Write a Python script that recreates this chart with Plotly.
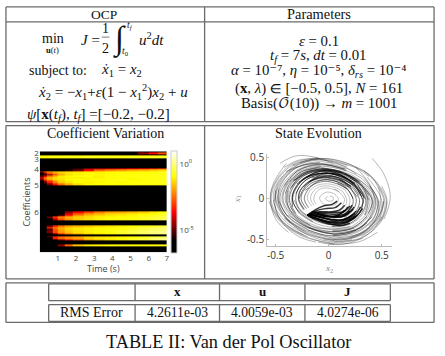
import plotly.graph_objects as go

W, H = 445, 356
N = -7

# --- heat map data: log10 of coefficient magnitude ---
TIME_EDGES = [0, .2, .4, .7, 1, 1.4, 1.8, 2.4, 3, 3.6, 4.2, 4.8, 5.4, 6, 6.5, 7]
ROW_EDGES = [0, 1, 3, 4, 5.5, 7, 17, 18.5, 20, 21.5, 23, 24.5, 26, 27.5, 29, 30.5, 32, 34,
             61, 63, 64.5, 66, 67.5, 70, 75, 76.5, 78, 79.5, 81, 82.5, 84, 85.5, 87, 88.5, 90,
             94.5, 96.5, 102]
# each list is the tail of its row, ending at t = 7; earlier cells are black
LEVEL_TAILS = [
    [],
    [-4.6, -3.6, -2.8],
    [],
    [-1.1, -1.1, -1.0, -1.0, -1.0, -.9, -1.0, -.9, -.9, -.9, -1.0, -.9, -.9, -.9, -.8],
    [-.9, -.9, -.85, -.8, -.85, -.8, -.8, -.7, -.8, -.8, -.8, -.7, -.8, -.7, -.7],
    [],
    [-5.4, -4.5, -4.2, -4, -3.8, -3.6, -3.4, -3.2, -3.0],
    [-5.5, -4.8, -3.6, -2.6, -2.2, -2.0, -1.8, -1.7, -1.5, -1.3],
    [-4.2, -2.6, -2.0, -1.7, -1.5, -1.3, -1.2, -1.1, -1.0, -1.0, -1.0, -.9, -.9, -.8, -.8],
    [-4.5, -2.8, -2.0, -1.5, -1.2, -1.1, -1.0, -1.1, -1.0, -.9, -1.0, -.9, -.9, -.8],
    [-5, -3.2, -2.0, -1.4, -1.1, -1, -.9, -1.0, -.9, -.9, -.9, -.8, -.8],
    [-5, -3.8, -2.4, -1.7, -1.2, -1.0, -.95, -.9, -1.1, -.9, -.9, -.85, -.85, -.8, -.8],
    [-3.8, -2.0, -1.5, -1.2, -1.1, -1.1, -1.2, -1.1, -1.1, -1.0, -1.0, -.9, -.9, -.85, -.8],
    [-4.8, -2.8, -1.9, -1.4, -1.2, -1.0, -.9, -1.0, -.9, -.9, -.85, -1.0, -.9, -.85, -.8],
    [-4.5, -3, -2, -1.4, -1.1, -1, -.95, -1.0, -.9, -.85, -.9, -.9, -.8, -.8],
    [-5, -3.4, -2.2, -1.5, -1.2, -1.0, -1.1, -1.0, -.9, -1.0, -.9, -.85, -.85, -.8],
    [-4.8, -3.5, -2.5, -1.8, -1.3, -1.0, -.95, -.9, -.9, -.9, -.85, -.85, -.8],
    [],
    [-4.6, -3.6, -3, -2.4, -2.0, -1.9, -1.7, -1.5, -1.2, -1.0],
    [-3.8, -2.6, -1.9, -1.6, -1.3, -1.2, -1.1, -1.0, -.9, -.7],
    [-4.5, -3.0, -1.8, -1.5, -1.3, -1.2, -1.1, -1.0, -.9, -.7, -.6],
    [-5, -3.2, -2.3, -1.8, -1.5, -1.3, -1.1, -1.0, -.9, -.9, -.7, -.6, -.5],
    [-4.2, -2.8, -2, -1.5, -1.3, -1.1, -1, -1, -.9, -.8, -.6, -.4],
    [],
    [-4.8, -3.2, -2.4, -1.9, -1.7, -1.5, -1.3, -1.2, -1.1, -1.0, -.8, -.7, -.5],
    [-3, -2.2, -1.7, -1.4, -1.2, -1.1, -1, -.9, -.9, -.7, -.5, -.3, -.2],
    [-5, -2.8, -1.9, -1.4, -1.2, -1.1, -1, -.9, -.8, -.6, -.4, -.2, -.1],
    [-4.8, -2.8, -2, -1.5, -1.3, -1.1, -1, -.9, -.7, -.5, -.3, -.1, 0],
    [-4.8, -3, -2.1, -1.6, -1.3, -1.1, -1, -.8, -.6, -.4, -.2, 0, .1],
    [-5, -3.2, -2.3, -1.8, -1.4, -1.2, -1, -.8, -.6, -.3, -.1, 0],
    [],
    [-5, -3.2, -2.6, -2.3, -2, -1.6, -1.4, -1.3, -1.1, -1, -.8, -.6, -.4],
    [-3.4, -2.6, -2.2, -1.9, -1.4, -1.2, -1.1, -1, -.8, -.6, -.3, -.1],
    [-4.6, -3.4, -2.8, -2, -1.6, -1.2, -1, -.7, -.4, -.1, .1],
    [],
    [-4.6, -2.6, -1.6, -1.2, -1.1, -1, -1, -.9, -.9, -.9, -.8],
    [],
]
TIME_TICKS = [1, 2, 3, 4, 5, 6, 7]
COEF_TICKS = [2, 8, 18, 34, 62]
COEF_LABELS = ["2", "3", "4", "5", "6"]
STATE_TICKS = [-0.5, 0, 0.5]
STATE_LABELS = ["-0.5", "0", "0.5"]

# --- phase portrait, (x2, x1) points ---
OUTER_ARCS = [
    [(.41,.49),(.52,.30),(.58,.05),(.56,-.12),(.52,-.25)],
    [(.25,.385),(.38,.19),(.43,-.01),(.39,-.22),(.3,-.36)],
    [(.33,.34),(.45,.18),(.49,0),(.46,-.2),(.38,-.33)],
    [(0,-.55),(.15,-.55),(.3,-.52),(.46,-.41)],
    [(-.1,-.53),(.1,-.56),(.28,-.5),(.42,-.38),(.5,-.22)],
    [(-.4,.43),(-.52,.19),(-.55,-.01),(-.5,-.25),(-.38,-.41)],
    [(-.46,.43),(-.31,.52),(-.15,.51),(.04,.43)],
    [(-.5,.1),(-.5,-.12),(-.42,-.32),(-.27,-.47),(-.12,-.53)],
    [(-.42,.38),(-.28,.47),(-.1,.48),(.1,.42),(.26,.3)],
    [(-.52,-.02),(-.48,-.2),(-.36,-.36),(-.2,-.46)],
    [(-.3,.4),(-.44,.24),(-.5,.05),(-.46,-.14),(-.36,-.3)],
    [(.2,-.47),(.36,-.38),(.47,-.22),(.52,-.03),(.47,.14)],
    [(-.05,-.5),(.15,-.5),(.32,-.42),(.44,-.26)],
    [(-.095,.49),(-.34,.41),(-.50,.19),(-.54,-.03),(-.45,-.26),(-.24,-.44)],
    [(.05,-.53),(.31,-.475),(.49,-.285),(.55,-.03),(.50,.15)],
    [(.18,.405),(-.09,.47),(-.32,.39),(-.48,.18),(-.51,-.03)],
    [(-.42,-.24),(-.225,-.41),(.045,-.50),(.30,-.45),(.47,-.27),(.52,-.03)],
    [(.38,.27),(.18,.43),(-.05,.49),(-.27,.44)],
    [(-.47,.12),(-.47,-.06),(-.39,-.25),(-.23,-.42),(0,-.52),(.22,-.5)],
]
LONG_ARCS = [
    [(-.1,.5),(-.35,.42),(-.51,.19),(-.55,-.03),(-.46,-.26),(-.24,-.45),(.05,-.54),(.32,-.485)],
    [(.31,-.46),(.48,-.28),(.53,-.03),(.39,.28),(.18,.41),(-.09,.48),(-.33,.40)],
    [(-.33,.40),(-.49,.18),(-.52,-.03),(-.43,-.25),(-.23,-.42),(.05,-.51)],
    [(.17,.39),(-.09,.45),(-.31,.375),(-.46,.175),(-.5,-.025),(-.41,-.235),(-.22,-.4)],
    [(-.41,-.235),(-.22,-.4),(.04,-.49),(.29,-.435),(.45,-.26),(.5,-.025),(.365,.26)],
    [(.345,.245),(.165,.37),(-.08,.425),(-.295,.35),(-.435,.165),(-.47,-.025),(-.385,-.22)],
    [(-.47,-.025),(-.385,-.22),(-.205,-.375),(.04,-.46),(.27,-.41),(.425,-.245),(.475,-.025)],
    [(-.077,.4),(-.277,.33),(-.408,.154),(-.44,-.023),(-.362,-.208),(-.193,-.354),(.038,-.431)],
    [(-.193,-.354),(.038,-.431),(.254,-.385),(.4,-.231),(.447,-.023),(.323,.231),(.154,.346)],
    [(-.26,.31),(-.38,.144),(-.41,-.02),(-.34,-.194),(-.18,-.331),(.036,-.403),(.238,-.36)],
    [(.036,-.403),(.238,-.36),(.374,-.216),(.418,-.02),(.302,.216),(.144,.324),(-.072,.374)],
    [(-.355,.134),(-.382,-.02),(-.315,-.18),(-.168,-.308),(.034,-.375),(.221,-.335),(.348,-.2)],
    [(.348,-.2),(.389,-.02),(.281,.2),(.134,.30),(-.067,.348),(-.241,.288),(-.355,.134)],
    [(-.291,-.167),(-.155,-.285),(.031,-.347),(.205,-.31),(.322,-.186),(.36,-.019),(.26,.186)],
    [(-.325,-.017),(-.268,-.154),(-.143,-.262),(.029,-.319),(.188,-.285),(.296,-.171),(.33,-.017)],
    [(.49,-.28),(.545,-.03),(.395,.28),(.19,.42),(-.094,.49),(-.34,.405)],
    [(-.565,-.03),(-.465,-.27),(-.25,-.455),(.05,-.555)],
    [(.045,-.5),(.29,-.445),(.46,-.27),(.515,-.03)],
]
MID_ARCS = [
    [(-.085,.44),(-.31,.37),(-.45,.17),(-.48,-.03),(-.40,-.23),(-.21,-.39),(.04,-.48)],
    [(.04,-.48),(.28,-.43),(.44,-.26),(.47,-.03),(.38,.16)],
    [(-.4,.33),(-.2,.42),(0,.41),(.17,.34)],
    [(-.075,.39),(-.27,.32),(-.40,.15),(-.43,-.02),(-.35,-.2),(-.19,-.35),(.04,-.42),(.25,-.38)],
    [(.04,-.44),(.25,-.38),(.39,-.23),(.44,-.02),(.34,.18),(.15,.3)],
    [(.15,.36),(-.075,.41),(-.29,.34),(-.42,.15)],
    [(-.38,.1),(-.39,-.06),(-.32,-.22),(-.16,-.36),(.03,-.4),(.22,-.36),(.36,-.22)],
    [(.38,-.02),(.3,.18),(.13,.31),(-.065,.36),(-.23,.3),(-.35,.14)],
    [(.37,-.18),(.41,-.03),(.33,.14),(.2,.25)],
    [(-.37,.2),(-.25,.33),(-.06,.37),(.12,.33)],
    [(-.2,-.38),(0,-.45),(.2,-.42),(.36,-.3)],
    [(.16,.36),(-.08,.42),(-.29,.34),(-.42,.16),(-.46,-.02),(-.38,-.22),(-.2,-.37)],
    [(.04,-.45),(.26,-.4),(.42,-.24),(.46,-.02),(.34,.24)],
    [(-.38,-.2),(-.2,-.35),(.04,-.43),(.26,-.38),(.41,-.22)],
    [(.29,.21),(.14,.315),(-.07,.36),(-.25,.3),(-.37,.14),(-.40,-.02),(-.33,-.19),(-.175,-.32)],
    [(.035,-.39),(.23,-.35),(.36,-.21),(.41,-.02),(.29,.21)],
    [(-.33,.22),(-.14,.33),(.07,.34),(.25,.24),(.38,.04)],
    [(-.36,-.1),(-.3,-.22),(-.15,-.34),(.03,-.37),(.2,-.34)],
    [(-.41,.06),(-.36,.2),(-.22,.33),(-.03,.39),(.16,.34)],
]
DENSE_ARCS = [
    [(.27,.2),(.13,.29),(-.065,.34),(-.23,.28),(-.34,.13),(-.37,-.02),(-.31,-.18)],
    [(.34,-.2),(.37,-.02),(.27,.2),(.12,.31),(-.07,.36)],
    [(.29,.2),(.13,.32),(-.06,.36),(-.25,.3),(-.36,.12)],
    [(.23,.17),(.11,.25),(-.055,.29),(-.2,.24),(-.29,.11),(-.31,-.02),(-.26,-.15),(-.14,-.25)],
    [(.18,-.28),(.29,-.17),(.32,-.02),(.23,.17),(.11,.27),(-.05,.31),(-.21,.26)],
    [(.25,.19),(.12,.28),(-.06,.31),(-.21,.26),(-.31,.12),(-.34,-.02),(-.28,-.17)],
    [(.3,-.12),(.33,0),(.26,.15),(.12,.27),(-.04,.32)],
    [(.19,.14),(.09,.2),(-.045,.23),(-.16,.19),(-.24,.09),(-.26,-.01),(-.21,-.12)],
    [(.15,-.23),(.23,-.14),(.26,-.01),(.19,.14),(.09,.22),(-.05,.25),(-.18,.21)],
    [(.21,.15),(.1,.23),(-.05,.26),(-.18,.21),(-.27,.1),(-.28,-.01),(-.23,-.13)],
    [(-.33,.22),(-.17,.33),(.03,.33),(.2,.22),(.31,.06)],
    [(-.3,.18),(-.14,.29),(.03,.3),(.19,.2),(.29,.04)],
    [(-.28,.2),(-.12,.32),(.06,.31),(.22,.2),(.33,.02)],
    [(-.24,.14),(-.1,.26),(.05,.26),(.18,.16),(.27,.02)],
    [(-.22,.1),(-.08,.22),(.05,.22),(.17,.13),(.23,0)],
    [(.25,.18),(.12,.27),(-.06,.31),(-.22,.26),(-.32,.12),(-.34,-.02),(-.28,-.16),(-.15,-.28)],
    [(.03,-.34),(.2,-.3),(.31,-.18),(.35,-.02),(.25,.18),(.12,.28)],
    [(.21,.15),(.1,.225),(-.05,.26),(-.18,.215),(-.265,.1),(-.285,-.015),(-.235,-.135)],
    [(.025,-.28),(.165,-.25),(.26,-.15),(.29,-.015),(.21,.15),(.1,.24)],
    [(.17,.12),(.08,.18),(-.04,.21),(-.145,.17),(-.21,.08),(-.23,-.01),(-.19,-.11)],
    [(.02,-.22),(.13,-.2),(.21,-.12),(.23,-.01),(.17,.12),(.08,.19)],
    [(-.19,.2),(-.05,.3),(.1,.29),(.24,.17),(.32,-.01)],
    [(-.25,.23),(-.1,.33),(.08,.33),(.25,.21),(.34,0)],
    [(-.31,.06),(-.24,.2),(-.08,.3),(.1,.29),(.26,.15)],
    [(-.28,0),(-.22,.15),(-.08,.26),(.08,.26),(.22,.12)],
    [(-.34,-.1),(-.34,.06),(-.25,.22),(-.08,.33),(.12,.31)],
    [(.31,.03),(.25,.14),(.1,.25),(-.04,.28),(-.16,.25)],
]
CORE_ARCS = [
    [(.15,.11),(.07,.16),(-.035,.18),(-.13,.15),(-.19,.07),(-.2,-.01),(-.16,-.09)],
    [(.12,-.18),(.18,-.11),(.2,-.01),(.15,.11)],
    [(.1,.08),(.05,.11),(-.025,.13),(-.09,.11),(-.13,.05),(-.14,-.01),(-.12,-.07)],
    [(.06,.05),(.03,.07),(-.015,.08),(-.05,.06),(-.08,.03),(-.085,0),(-.07,-.04),(-.04,-.07),(.01,-.08),(.05,-.08),(.08,-.05),(.09,0),(.06,.05)],
    [(.13,-.08),(.15,-.01),(.1,.08),(.05,.12)],
    [(.01,.03),(.04,.02),(.04,-.02),(0,-.03),(-.03,0),(-.01,.03)],
    [(.13,.09),(.06,.135),(-.03,.155),(-.11,.13),(-.16,.06),(-.17,-.01),(-.14,-.08)],
    [(.015,-.17),(.1,-.15),(.155,-.09),(.17,-.01),(.13,.09)],
]
FAN_ARCS = [
    [(-.2,-.2),(-.12,-.26),(0,-.31),(.12,-.31),(.24,-.24),(.32,-.12)],
    [(-.2,-.2),(-.1,-.24),(.01,-.28),(.13,-.28),(.24,-.21),(.3,-.1)],
    [(-.2,-.2),(-.09,-.22),(.02,-.25),(.12,-.26),(.22,-.2)],
    [(-.2,-.2),(-.08,-.2),(.03,-.22),(.13,-.22),(.2,-.15)],
    [(-.2,-.2),(-.07,-.18),(.03,-.19),(.12,-.18),(.18,-.1)],
    [(-.2,-.2),(-.08,-.16),(.02,-.16),(.1,-.14),(.15,-.08)],
    [(-.2,-.2),(-.1,-.14),(-.02,-.12),(.06,-.11),(.12,-.05)],
    [(-.2,-.2),(-.12,-.13),(-.05,-.09),(.03,-.07),(.08,-.03)],
    [(-.17,-.22),(-.06,-.27),(.05,-.3),(.16,-.29),(.27,-.2)],
    [(-.15,-.2),(-.04,-.24),(.07,-.26),(.17,-.24),(.26,-.15)],
    [(-.14,-.17),(-.03,-.2),(.08,-.22),(.17,-.19),(.24,-.1)],
    [(-.13,-.23),(0,-.3),(.1,-.33),(.2,-.3)],
    [(-.1,-.19),(0,-.22),(.09,-.2),(.15,-.14)],
    [(-.19,-.21),(-.08,-.26),(.03,-.29),(.14,-.29),(.25,-.22)],
    [(-.18,-.2),(-.07,-.23),(.04,-.27),(.15,-.26),(.25,-.18)],
    [(-.18,-.18),(-.06,-.2),(.05,-.23),(.15,-.21),(.23,-.13)],
    [(-.16,-.16),(-.05,-.17),(.05,-.17),(.14,-.16),(.2,-.09)],
    [(-.17,-.19),(-.05,-.22),(.06,-.21),(.16,-.18),(.22,-.08)],
]

# --- table text ---
RMS_HEADERS = ["x", "u", "J"]
RMS_VALUES = ["4.2611e-03", "4.0059e-03", "4.0274e-06"]
PARAM_LINES = [
    "<i>ε</i> = 0.1",
    "<i>t<sub>f</sub></i> = 7<i>s</i>, <i>dt</i> = 0.01",
    "<i>α</i> = 10⁻⁷, <i>η</i> = 10⁻⁵, <i>δ<sub>rs</sub></i> = 10⁻⁴",
    "(<b>x</b>, <i>λ</i>) ∈ [−0.5, 0.5], <i>N</i> = 161",
    "Basis(𝒪(10)) → <i>m</i> = 1001",
]

SERIF = "Liberation Serif, DejaVu Math TeX Gyre, DejaVu Serif"
SANS = "Open Sans, DejaVu Sans"
INK = "#111"
RULE = "#6a6a6a"


def fx(px):
    return px / W


def fy(py):
    return 1 - py / H


annotations = []


def text(s, x, y, size=14, anchor="center", font=SERIF, color=INK, angle=0):
    annotations.append(dict(text=s, x=fx(x), y=fy(y), xref="paper", yref="paper",
                            xanchor=anchor, yanchor="middle", showarrow=False,
                            textangle=angle, font=dict(family=font, size=size, color=color)))


shapes = []


def rule(x0, y0, x1, y1, width=1.3):
    shapes.append(dict(type="line", xref="paper", yref="paper", x0=fx(x0), y0=fy(y0),
                       x1=fx(x1), y1=fy(y1), line=dict(color=RULE, width=width)))


def box(x0, y0, x1, y1, width=1.3):
    rule(x0, y0, x1, y0, width)
    rule(x0, y1, x1, y1, width)
    rule(x0, y0, x0, y1, width)
    rule(x1, y0, x1, y1, width)


# upper table
box(6, 3, 437, 119)
rule(6, 18, 437, 18)
rule(206, 3, 206, 119)
box(6, 123, 437, 278)
rule(206, 123, 206, 278)
# lower table
box(6, 282, 437, 322)
box(49, 283, 393, 300)
box(49, 304, 393, 321)
for xv in (136, 221, 307):
    rule(xv, 283, xv, 300)
    rule(xv, 304, xv, 321)

# headings
text("OCP", 105, 10.5, size=13.5)
text("Parameters", 321, 10.5, size=14.4)
text("Coefficient Variation", 106, 130.5)
text("State Evolution", 321, 130.5)

# OCP block
text("min", 53, 35)
text("<b>u</b>(<i>t</i>)", 53, 47, size=8.5)
text("<i>J</i> =", 80, 36, anchor="left", size=15)
text("1", 106, 25)
rule(102.5, 33.5, 110, 33.5, 0.9)
text("2", 106, 45)
text("∫", 120, 35, size=33)
text("<i>t<sub>f</sub></i>", 131, 22, size=9.5)
text("<i>t</i><sub>0</sub>", 126, 48, size=9.5)
text("<i>u</i><sup>2</sup><i>dt</i>", 138, 35, anchor="left", size=15)
text("subject to:", 27, 67, anchor="left")
text("<i>ẋ</i><sub>1</sub> = <i>x</i><sub>2</sub>", 100, 67, anchor="left", size=15)
text("<i>ẋ</i><sub>2</sub> = −<i>x</i><sub>1</sub>+<i>ε</i>(1 − <i>x</i><sub>1</sub><sup>2</sup>)<i>x</i><sub>2</sub> + <i>u</i>", 36, 89, anchor="left", size=15)
text("<i>ψ</i>[<b>x</b>(<i>t<sub>f</sub></i>), <i>t<sub>f</sub></i>] =[−0.2, −0.2]", 25, 112, anchor="left", size=15)

# parameters block
for line, yv in zip(PARAM_LINES, (37, 53, 68, 85, 101)):
    text(line, 321, yv, size=14.8)

# RMS table
for head, xv in zip(RMS_HEADERS, (178.5, 264, 350)):
    text(f"<b>{head}</b>", xv, 291, size=13)
text("RMS Error", 92, 312, size=14)
for val, xv in zip(RMS_VALUES, (178.5, 264, 350)):
    text(val, xv, 312, size=13.6)

text("TABLE II: Van der Pol Oscillator", 230, 342, size=18.3)

# axis titles
text("Coefficients", 27, 200, size=9, font=SANS, color="#444", angle=-90)
text("Time (s)", 104, 268, size=9, font=SANS, color="#444")
text("<i>x</i><sub>2</sub>", 331, 268, size=9, color="#888")
text("<i>x</i><sub>1</sub>", 239, 197, size=9, color="#888", angle=-90)

fig = go.Figure()

# heat map
z_rows = [[N] * (len(TIME_EDGES) - 1 - len(tail)) + tail for tail in LEVEL_TAILS]
fig.add_trace(go.Heatmap(
    x=TIME_EDGES, y=ROW_EDGES, z=z_rows, zmin=-6.7, zmax=0.95,
    colorscale=[[0, "#000"], [0.12, "#000"], [0.4, "#f00"], [0.75, "#ff0"], [1, "#fff"]],
    xaxis="x", yaxis="y", hoverinfo="skip",
    colorbar=dict(x=fx(172), xanchor="left", y=fy(149), yanchor="top", lenmode="pixels", len=102,
                  thicknessmode="pixels", thickness=6, xpad=0, ypad=0, outlinecolor="#ccc",
                  outlinewidth=1, tickvals=[-5, 0],
                  ticktext=["10<sup>-5</sup>", "10<sup>0</sup>"], ticks="",
                  tickfont=dict(family=SANS, size=8, color="#444")),
))

# phase portrait
for arcs, colour, width in [(OUTER_ARCS, "rgba(0,0,0,0.32)", 0.9),
                            (LONG_ARCS, "rgba(0,0,0,0.35)", 0.8),
                            (MID_ARCS, "rgba(0,0,0,0.42)", 0.9),
                            (DENSE_ARCS, "rgba(0,0,0,0.5)", 1.0),
                            (CORE_ARCS, "rgba(0,0,0,0.3)", 0.8),
                            (FAN_ARCS, "rgba(0,0,0,0.8)", 1.4)]:
    for arc in arcs:
        fig.add_trace(go.Scatter(x=[p[0] for p in arc], y=[p[1] for p in arc], mode="lines",
                                 line=dict(color=colour, width=width, shape="spline", smoothing=1),
                                 xaxis="x2", yaxis="y2", showlegend=False, hoverinfo="skip"))

fig.update_layout(
    width=W, height=H, margin=dict(l=0, r=0, t=0, b=0),
    paper_bgcolor="white", plot_bgcolor="white", showlegend=False,
    annotations=annotations, shapes=shapes,
    xaxis=dict(domain=[fx(40), fx(168)], range=[0, 7], tickvals=TIME_TICKS, anchor="y",
               showgrid=False, zeroline=False, ticks="", tickfont=dict(family=SANS, size=8, color="#444")),
    yaxis=dict(domain=[fy(251), fy(149)], range=[102, 0], tickvals=COEF_TICKS, ticktext=COEF_LABELS,
               anchor="x", showgrid=False, zeroline=False, ticks="",
               tickfont=dict(family=SANS, size=8, color="#444")),
    xaxis2=dict(domain=[fx(269), fx(395)], range=[-0.58, 0.6], tickvals=STATE_TICKS, ticktext=STATE_LABELS,
                anchor="y2", showgrid=False, zeroline=False, showline=True, linecolor="#bbb", linewidth=1,
                ticks="inside", ticklen=2, tickcolor="#bbb", tickfont=dict(family=SANS, size=10, color="#333")),
    yaxis2=dict(domain=[fy(245), fy(152)], range=[-0.58, 0.54], tickvals=STATE_TICKS, ticktext=STATE_LABELS,
                anchor="x2", showgrid=False, zeroline=False, showline=True, linecolor="#bbb", linewidth=1,
                ticks="inside", ticklen=2, tickcolor="#bbb", tickfont=dict(family=SANS, size=10, color="#333")),
)

fig.write_html("out.html", config=dict(displayModeBar=False),
               post_script="document.body.style.margin='0';")
